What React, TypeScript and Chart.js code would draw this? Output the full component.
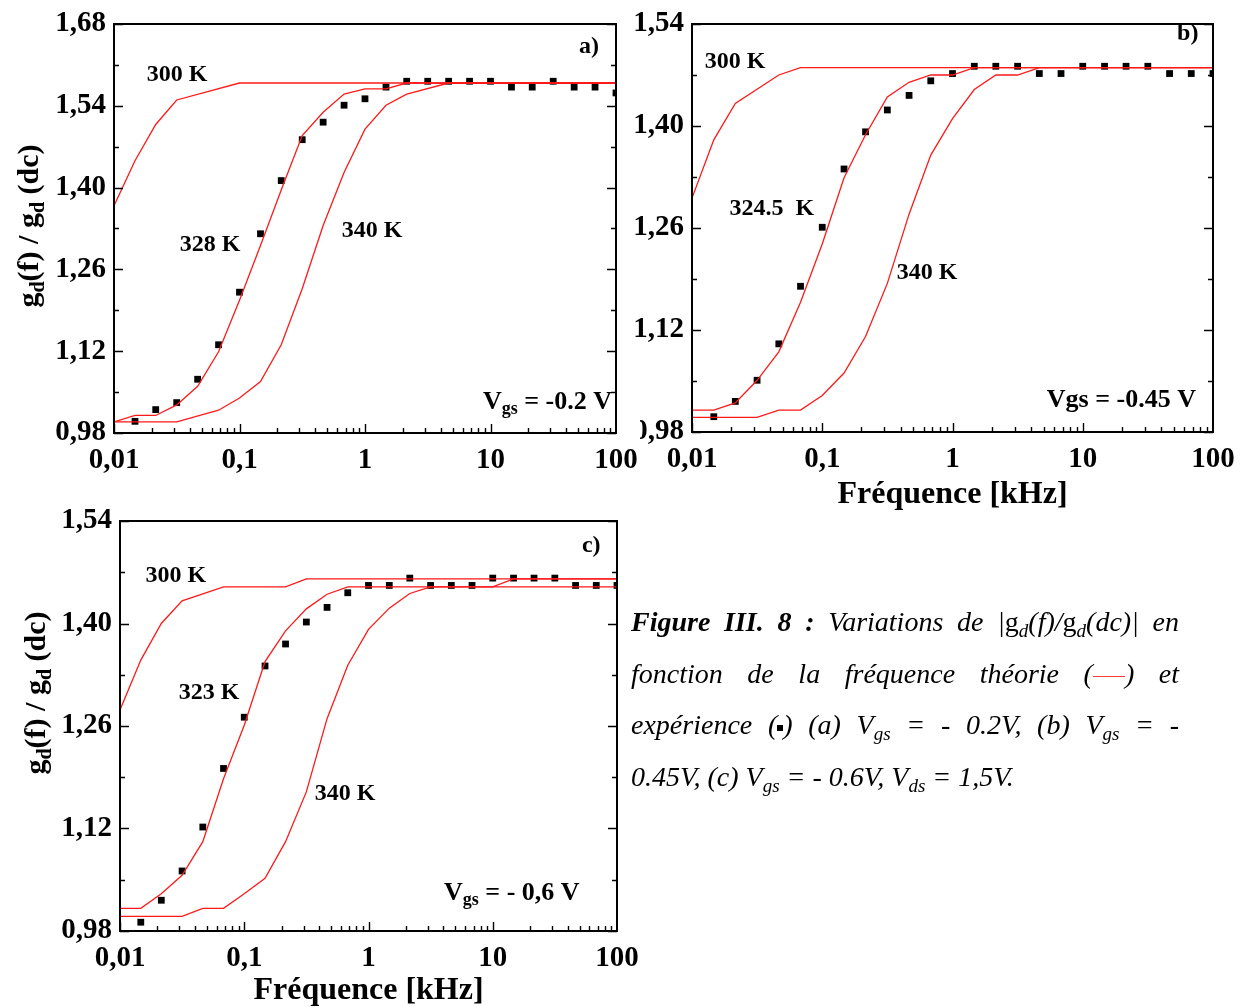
import React, { useEffect, useRef } from 'react';
import { Chart, registerables } from 'chart.js';

Chart.register(...registerables);

const FONT = '"Liberation Serif", "Times New Roman", Times, serif';

// ---------- axes ----------
const X_TICKS = [0.01, 0.1, 1, 10, 100];
const X_TICK_LABELS = ['0,01', '0,1', '1', '10', '100'];
const Y_TICKS_A = [0.98, 1.12, 1.26, 1.4, 1.54, 1.68];
const Y_TICKS_BC = [0.98, 1.12, 1.26, 1.4, 1.54];

// ---------- measured frequencies (kHz) ----------
const PTS_FREQ = [0.0147, 0.0215, 0.0316, 0.0464, 0.0681, 0.1, 0.147, 0.215, 0.316, 0.464, 0.681, 1, 1.47, 2.15, 3.16, 4.64, 6.81, 10, 14.7, 21.5, 31.6, 46.4, 68.1, 100];

// ---------- (a) Vgs = -0.2 V ----------
const A_EXP = [1.0, 1.02, 1.032, 1.072, 1.131, 1.221, 1.321, 1.412, 1.482, 1.512, 1.541, 1.552, 1.572, 1.582, 1.582, 1.582, 1.582, 1.582, 1.572, 1.572, 1.582, 1.572, 1.572, 1.562];
const A_300_X = [0.01, 0.0147, 0.0215, 0.0316, 0.1, 100];
const A_300_Y = [1.369, 1.446, 1.508, 1.55, 1.579, 1.579];
const A_328_X = [0.01, 0.0147, 0.0215, 0.0316, 0.0464, 0.0681, 0.1, 0.147, 0.215, 0.316, 0.464, 0.681, 1, 1.47, 2.15, 100];
const A_328_Y = [0.999, 1.01, 1.01, 1.028, 1.06, 1.119, 1.207, 1.301, 1.396, 1.489, 1.529, 1.56, 1.569, 1.569, 1.579, 1.579];
const A_340_X = [0.01, 0.0316, 0.0681, 0.1, 0.147, 0.215, 0.316, 0.464, 0.681, 1, 1.47, 2.15, 4.64, 100];
const A_340_Y = [0.999, 0.999, 1.019, 1.04, 1.068, 1.131, 1.227, 1.335, 1.426, 1.5, 1.541, 1.56, 1.579, 1.579];

// ---------- (b) Vgs = -0.45 V ----------
const B_EXP = [1.001, 1.022, 1.051, 1.101, 1.18, 1.261, 1.341, 1.392, 1.422, 1.442, 1.462, 1.472, 1.482, 1.482, 1.482, 1.472, 1.472, 1.482, 1.482, 1.482, 1.482, 1.472, 1.472, 1.472];
const B_300_X = [0.01, 0.0147, 0.0215, 0.0464, 0.0681, 100];
const B_300_Y = [1.301, 1.381, 1.431, 1.47, 1.48, 1.48];
const B_324_X = [0.01, 0.0147, 0.0215, 0.0316, 0.0464, 0.0681, 0.1, 0.147, 0.215, 0.316, 0.464, 0.681, 1, 1.47, 100];
const B_324_Y = [1.01, 1.01, 1.02, 1.051, 1.09, 1.158, 1.238, 1.329, 1.388, 1.44, 1.46, 1.47, 1.47, 1.48, 1.48];
const B_340_X = [0.01, 0.0316, 0.0464, 0.0681, 0.1, 0.147, 0.215, 0.316, 0.464, 0.681, 1, 1.47, 2.15, 3.16, 4.64, 100];
const B_340_Y = [1.0, 1.0, 1.01, 1.01, 1.03, 1.061, 1.111, 1.184, 1.279, 1.36, 1.41, 1.45, 1.47, 1.47, 1.48, 1.48];

// ---------- (c) Vgs = -0.6 V ----------
const C_EXP = [0.992, 1.022, 1.062, 1.122, 1.202, 1.272, 1.342, 1.372, 1.402, 1.422, 1.442, 1.452, 1.452, 1.462, 1.452, 1.452, 1.452, 1.462, 1.462, 1.462, 1.462, 1.452, 1.452, 1.452];
const C_300_X = [0.01, 0.0147, 0.0215, 0.0316, 0.0681, 0.215, 0.316, 100];
const C_300_Y = [1.282, 1.35, 1.4, 1.431, 1.45, 1.45, 1.461, 1.461];
const C_323_X = [0.01, 0.0147, 0.0215, 0.0316, 0.0464, 0.0681, 0.1, 0.147, 0.215, 0.316, 0.464, 0.681, 10, 14.7, 100];
const C_323_Y = [1.011, 1.011, 1.031, 1.056, 1.102, 1.188, 1.261, 1.348, 1.39, 1.42, 1.44, 1.45, 1.45, 1.461, 1.461];
const C_340_X = [0.01, 0.0316, 0.0464, 0.0681, 0.1, 0.147, 0.215, 0.316, 0.464, 0.681, 1, 1.47, 2.15, 3.16, 100];
const C_340_Y = [1.0, 1.0, 1.011, 1.011, 1.031, 1.052, 1.102, 1.17, 1.27, 1.343, 1.392, 1.421, 1.441, 1.45, 1.45];

type Part = { t: string; sub?: boolean };
type Ann = { x: number; y: number; parts: Part[]; size: number; align: 'center' | 'right' };
type Spec = {
  left: number; top: number; w: number; h: number;
  plot: { l: number; t: number; r: number; b: number };
  yMin: number; yMax: number; yTicks: number[];
  lines: { x: number[]; y: number[] }[];
  pts: number[];
  anns: Ann[];
  yTitle?: { x: number; y: number };
  xTitle: boolean;
  xTitlePad: number;
};

const TITLE_PARTS: Part[] = [
  { t: 'g' }, { t: 'd', sub: true }, { t: '(f) / g' }, { t: 'd', sub: true }, { t: ' (dc)' },
];

function drawParts(ctx: CanvasRenderingContext2D, parts: Part[], x: number, y: number, size: number, align: 'center' | 'right') {
  const mainFont = `bold ${size}px ${FONT}`;
  const subFont = `bold ${Math.round(size * 0.68)}px ${FONT}`;
  let total = 0;
  const widths = parts.map((p) => {
    ctx.font = p.sub ? subFont : mainFont;
    const w = ctx.measureText(p.t).width;
    total += w;
    return w;
  });
  let cx = align === 'center' ? x - total / 2 : x - total;
  ctx.textAlign = 'left';
  ctx.textBaseline = 'middle';
  parts.forEach((p, i) => {
    ctx.font = p.sub ? subFont : mainFont;
    ctx.fillText(p.t, cx, p.sub ? y + size * 0.28 : y);
    cx += widths[i];
  });
}

function makeDecor(s: Spec) {
  return {
    id: 'decor',
    afterDraw(chart: any) {
      const ctx: CanvasRenderingContext2D = chart.ctx;
      const { left, right, top, bottom } = chart.chartArea;
      const xs = chart.scales.x;
      const ys = chart.scales.y;
      ctx.save();
      ctx.strokeStyle = '#000';
      ctx.fillStyle = '#000';
      ctx.lineWidth = 1.4;
      ctx.beginPath();
      // x ticks (bottom, inward)
      for (let d = 0; d < X_TICKS.length - 1; d++) {
        for (let m = 1; m <= 9; m++) {
          const px = Math.round(xs.getPixelForValue(X_TICKS[d] * m)) + 0.5;
          const len = m === 1 ? 9 : 5;
          ctx.moveTo(px, bottom);
          ctx.lineTo(px, bottom - len);
        }
      }
      // y ticks (left/right, inward)
      s.yTicks.forEach((v, i) => {
        const py = Math.round(ys.getPixelForValue(v)) + 0.5;
        ctx.moveTo(left, py); ctx.lineTo(left + 9, py);
        ctx.moveTo(right, py); ctx.lineTo(right - 9, py);
        if (i < s.yTicks.length - 1) {
          const pm = Math.round(ys.getPixelForValue((v + s.yTicks[i + 1]) / 2)) + 0.5;
          ctx.moveTo(left, pm); ctx.lineTo(left + 5, pm);
          ctx.moveTo(right, pm); ctx.lineTo(right - 5, pm);
        }
      });
      ctx.stroke();
      // frame
      ctx.lineWidth = 2;
      ctx.strokeRect(left, top, right - left, bottom - top);
      // annotations
      s.anns.forEach((a) => {
        drawParts(ctx, a.parts, xs.getPixelForValue(a.x), ys.getPixelForValue(a.y), a.size, a.align);
      });
      // y title
      if (s.yTitle) {
        ctx.translate(s.yTitle.x - s.left, s.yTitle.y - s.top);
        ctx.rotate(-Math.PI / 2);
        drawParts(ctx, TITLE_PARTS, 0, 0, 30, 'center');
      }
      ctx.restore();
    },
  };
}

function buildConfig(s: Spec): any {
  const datasets: any[] = s.lines.map((l) => ({
    data: l.x.map((x, i) => ({ x, y: l.y[i] })),
    borderColor: 'rgb(255,25,25)',
    borderWidth: 1.3,
    pointRadius: 0,
    fill: false,
    tension: 0,
  }));
  datasets.push({
    data: PTS_FREQ.map((x, i) => ({ x, y: s.pts[i] })),
    showLine: false,
    pointStyle: 'rect',
    pointRadius: 4.8,
    backgroundColor: '#000',
    borderColor: '#000',
    borderWidth: 0,
  });
  const tickFont = { family: FONT, size: 29, weight: 'bold' as const };
  return {
    type: 'line',
    data: { datasets },
    options: {
      animation: false,
      responsive: false,
      devicePixelRatio: 1,
      layout: { padding: { left: 0, top: s.plot.t - s.top, right: s.left + s.w - s.plot.r, bottom: 0 } },
      plugins: { legend: { display: false }, tooltip: { enabled: false } },
      scales: {
        x: {
          type: 'logarithmic',
          min: 0.01,
          max: 100,
          afterBuildTicks: (sc: any) => { sc.ticks = X_TICKS.map((v) => ({ value: v })); },
          afterFit: (sc: any) => {
            sc.height = s.top + s.h - s.plot.b;
            sc.paddingLeft = 0; sc.paddingRight = 0; sc.paddingTop = 0; sc.paddingBottom = 0;
          },
          grid: { display: false, drawTicks: false },
          border: { display: false },
          ticks: {
            font: tickFont, color: '#000', padding: 10, maxRotation: 0, minRotation: 0, autoSkip: false,
            callback: (_v: any, i: number) => X_TICK_LABELS[i],
          },
          title: {
            display: s.xTitle,
            text: 'Fréquence [kHz]',
            color: '#000',
            font: { family: FONT, size: 32, weight: 'bold', lineHeight: 1 },
            padding: { top: 0, bottom: s.xTitlePad },
          },
        },
        y: {
          type: 'linear',
          min: s.yMin,
          max: s.yMax,
          afterBuildTicks: (sc: any) => { sc.ticks = s.yTicks.map((v) => ({ value: v })); },
          afterFit: (sc: any) => {
            sc.width = s.plot.l - s.left;
            sc.paddingLeft = 0; sc.paddingRight = 0; sc.paddingTop = 0; sc.paddingBottom = 0;
          },
          grid: { display: false, drawTicks: false },
          border: { display: false },
          ticks: {
            font: tickFont, color: '#000', padding: 8,
            callback: (v: any) => Number(v).toFixed(2).replace('.', ','),
          },
        },
      },
    },
    plugins: [makeDecor(s)],
  };
}

const K = (t: string, x: number, y: number): Ann => ({ x, y, parts: [{ t }], size: 24, align: 'center' });

const SPEC_A: Spec = {
  left: 0, top: 0, w: 640, h: 480,
  plot: { l: 114, t: 24, r: 616, b: 433 },
  yMin: 0.98, yMax: 1.68, yTicks: Y_TICKS_A,
  lines: [{ x: A_300_X, y: A_300_Y }, { x: A_328_X, y: A_328_Y }, { x: A_340_X, y: A_340_Y }],
  pts: A_EXP,
  anns: [
    K('300 K', 0.0318, 1.593), K('328 K', 0.0582, 1.302), K('340 K', 1.14, 1.326),
    { x: 61, y: 1.641, parts: [{ t: 'a)' }], size: 24, align: 'center' },
    { x: 93, y: 1.033, parts: [{ t: 'V' }, { t: 'gs', sub: true }, { t: ' = -0.2 V' }], size: 26, align: 'right' },
  ],
  yTitle: { x: 30, y: 226 },
  xTitle: false,
  xTitlePad: 0,
};

const SPEC_B: Spec = {
  left: 630, top: 0, w: 617, h: 515,
  plot: { l: 692, t: 24, r: 1213, b: 432 },
  yMin: 0.98, yMax: 1.54, yTicks: Y_TICKS_BC,
  lines: [{ x: B_300_X, y: B_300_Y }, { x: B_324_X, y: B_324_Y }, { x: B_340_X, y: B_340_Y }],
  pts: B_EXP,
  anns: [
    K('300 K', 0.0214, 1.488), K('324.5  K', 0.0411, 1.287), K('340 K', 0.637, 1.198),
    { x: 64, y: 1.526, parts: [{ t: 'b)' }], size: 24, align: 'center' },
    { x: 74, y: 1.024, parts: [{ t: 'Vgs = -0.45 V' }], size: 26, align: 'right' },
  ],
  xTitle: true,
  xTitlePad: 4,
};

const SPEC_C: Spec = {
  left: 0, top: 490, w: 640, h: 517,
  plot: { l: 120, t: 521, r: 617, b: 931 },
  yMin: 0.98, yMax: 1.54, yTicks: Y_TICKS_BC,
  lines: [{ x: C_300_X, y: C_300_Y }, { x: C_323_X, y: C_323_Y }, { x: C_340_X, y: C_340_Y }],
  pts: C_EXP,
  anns: [
    K('300 K', 0.0282, 1.465), K('323 K', 0.052, 1.305), K('340 K', 0.647, 1.167),
    { x: 62, y: 1.506, parts: [{ t: 'c)' }], size: 24, align: 'center' },
    { x: 50, y: 1.032, parts: [{ t: 'V' }, { t: 'gs', sub: true }, { t: ' = - 0,6 V' }], size: 26, align: 'right' },
  ],
  yTitle: { x: 37, y: 693 },
  xTitle: true,
  xTitlePad: 0,
};

function Panel({ spec }: { spec: Spec }) {
  const ref = useRef<HTMLCanvasElement>(null);
  useEffect(() => {
    const chart = new Chart(ref.current as HTMLCanvasElement, buildConfig(spec));
    return () => chart.destroy();
  }, [spec]);
  return (
    <canvas
      ref={ref}
      width={spec.w}
      height={spec.h}
      style={{ position: 'absolute', left: spec.left, top: spec.top, width: spec.w, height: spec.h }}
    />
  );
}

const sub: React.CSSProperties = { fontSize: '0.68em', verticalAlign: '-0.3em', lineHeight: 0 };
const just: React.CSSProperties = { textAlign: 'justify', textAlignLast: 'justify' };

function Caption() {
  return (
    <div
      style={{
        position: 'absolute', left: 631, top: 596, width: 548,
        fontFamily: FONT, fontStyle: 'italic', fontSize: 28, lineHeight: '51.7px', color: '#000',
      }}
    >
      <div style={just}>
        <b>Figure III. 8 :</b> Variations de |<span style={{ fontStyle: 'normal' }}>g</span><span style={sub}>d</span>(f)/<span style={{ fontStyle: 'normal' }}>g</span><span style={sub}>d</span>(dc)| en
      </div>
      <div style={just}>
        fonction de la fréquence théorie (<span style={{ display: 'inline-block', width: 32, borderTop: '1.5px solid rgb(255,60,60)', verticalAlign: 'middle' }} />) et
      </div>
      <div style={just}>
        expérience (<span style={{ display: 'inline-block', width: 6, height: 6, background: '#000', verticalAlign: 'middle' }} />) (a) V<span style={sub}>gs</span> = - 0.2V, (b) V<span style={sub}>gs</span> = -
      </div>
      <div>
        0.45V, (c) V<span style={sub}>gs</span> = - 0.6V, V<span style={sub}>ds</span> = 1,5V.
      </div>
    </div>
  );
}

export default function App() {
  return (
    <div style={{ position: 'absolute', left: 0, top: 0, width: 1247, height: 1007, background: '#fff', overflow: 'hidden' }}>
      <Panel spec={SPEC_B} />
      <Panel spec={SPEC_A} />
      <Panel spec={SPEC_C} />
      <div style={{ position: 'absolute', left: 628, top: 416, width: 12, height: 32, background: '#fff' }} />
      <Caption />
    </div>
  );
}
